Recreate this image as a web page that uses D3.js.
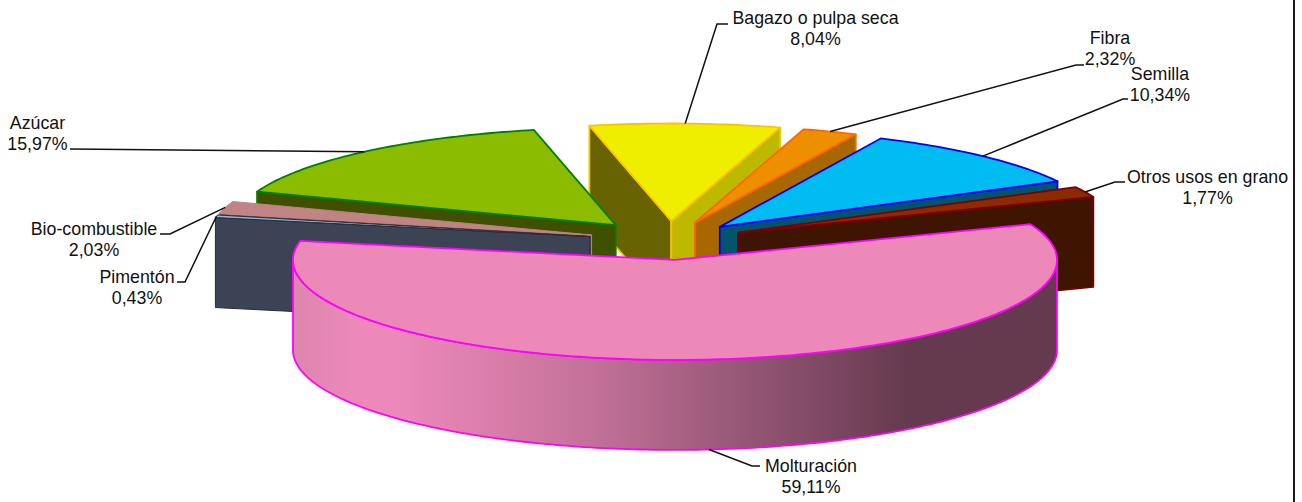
<!DOCTYPE html>
<html>
<head>
<meta charset="utf-8">
<script src="https://cdn.jsdelivr.net/npm/d3@7"></script>
<style>
  body { margin: 0; background: #fff; }
  text { font-family: "Liberation Sans", Arial, sans-serif; font-size: 17.8px; fill: #111; }
</style>
</head>
<body>
<div id="chart"></div>
<script>
// Data, clockwise from Molturacion
const categories = ["Molturación", "Pimentón", "Bio-combustible", "Azúcar", "Bagazo o pulpa seca", "Fibra", "Semilla", "Otros usos en grano"];
const shares = [59.11, 0.43, 2.03, 15.97, 8.04, 2.32, 10.34, 1.77];
const shareLabels = ["59,11%", "0,43%", "2,03%", "15,97%", "8,04%", "2,32%", "10,34%", "1,77%"];
const explosion = [0.19, 0.21, 0.21, 0.21, 0.2, 0.195, 0.195, 0.2];

// Styles
const topFill = ["#ec89b9", "#95b3d7", "#c08484", "#8cbc00", "#f0ee00", "#ee8f00", "#00bcf0", "#8a2b00"];
const sideFill = ["url(#moltWall)", "#3b4354", "#7a4a4a", "#3f5000", "#666300", "#a96700", "#00546c", "#3e1500"];
const endFill = ["#653a4f", "#3b4354", "#7a4a4a", "#3f5000", "#bdb900", "#a96700", "#00546c", "#3e1500"];
const strokes = ["#ff00ff", "#262c38", "#c08484", "#008000", "#ffc000", "#ff6600", "#0000ff", "#7b0000"];
const strokeWidths = [1.8, 1, 1, 1.8, 1.8, 1.8, 1.8, 1.8];
const drawOrder = [4, 5, 6, 7, 3, 2, 1, 0];

// Label layout: [centre x, first baseline], then leader elbow and end
const labelPos = [[811, 472], [137, 283], [94, 235], [37.5, 129], [815.5, 24], [1110, 44], [1160, 80], [1207.5, 183]];
const elbows = [[[752, 466], [760, 466]], [[185, 282], [177, 282]], [[170, 234], [160, 234]], [[70, 149]],
                [[717, 24], [728, 24]], [[1076, 65], [1084, 65]], [[1123, 99], [1128, 99]], [[1115, 182], [1125, 182]]];

const width = 1302, height = 502;
const depth = 90, lineGap = 20.5, backSquash = 0.975;

const svg = d3.select("#chart").append("svg")
  .attr("width", width).attr("height", height).style("display", "block");

const xscale = d3.scaleLinear().domain([-1, 1]).range([286.5, 1050.5]);
const yscale = d3.scaleLinear().domain([-1, 1]).range([341, 141]);

const grad = svg.append("defs").append("linearGradient").attr("id", "moltWall")
  .attr("gradientUnits", "userSpaceOnUse")
  .attr("x1", 292).attr("x2", 1057).attr("y1", 0).attr("y2", 0);
[[0, "#dc86ad"], [0.08, "#ec89b9"], [0.14, "#ec89b9"], [0.385, "#c47299"], [0.805, "#653a4f"], [1, "#653a4f"]].forEach(s => {
  grad.append("stop").attr("offset", s[0]).attr("stop-color", s[1]);
});

const pie = d3.pie().sort(null).value(d => d)
  .startAngle(68.5 * Math.PI / 180).endAngle((68.5 + 360) * Math.PI / 180);
const arcs = pie(shares);
const line = d3.line();

function project(i, angle, r) {
  const a = arcs[i];
  const mid = (a.startAngle + a.endAngle) / 2;
  const c = r * Math.cos(angle);
  return [xscale(explosion[i] * Math.sin(mid) + r * Math.sin(angle)),
          yscale(explosion[i] * Math.cos(mid) + (c > 0 ? c * backSquash : c))];
}
const drop = p => [p[0], p[1] + depth];

// points along the rim between two angles
function rim(i, a0, a1) {
  const n = Math.max(2, Math.ceil(Math.abs(a1 - a0) * 60));
  return d3.range(n + 1).map(k => project(i, a0 + (a1 - a0) * k / n, 1));
}

const g = svg.append("g");

drawOrder.forEach(i => {
  const a = arcs[i];
  const apex = project(i, 0, 0);
  const slice = g.append("g");
  const face = (pts, fill) => slice.append("path").attr("d", line(pts) + "Z")
    .attr("fill", fill).attr("stroke", strokes[i]).attr("stroke-width", strokeWidths[i]).attr("stroke-linejoin", "round");

  // radial walls, only when they face the viewer
  if (Math.cos(a.startAngle - Math.PI / 2) < 0) {
    const p = project(i, a.startAngle, 1);
    face([apex, p, drop(p), drop(apex)], sideFill[i]);
  }
  if (Math.cos(a.endAngle + Math.PI / 2) < 0) {
    const p = project(i, a.endAngle, 1);
    face([apex, p, drop(p), drop(apex)], endFill[i]);
  }
  // outer wall for the front half of the ellipse
  const from = Math.max(a.startAngle, Math.PI / 2), to = Math.min(a.endAngle, 3 * Math.PI / 2);
  if (to > from) {
    const front = rim(i, from, to);
    face(front.concat(front.map(drop).reverse()), sideFill[i]);
  }
  face([apex].concat(rim(i, a.startAngle, a.endAngle)), topFill[i]);
});

// Leaders and labels
arcs.forEach((a, i) => {
  const mid = (a.startAngle + a.endAngle) / 2;
  let start = project(i, mid, 1);
  if (Math.cos(mid) < 0) start = drop(start);
  svg.append("path").attr("d", line([start, ...elbows[i]]))
    .attr("fill", "none").attr("stroke", "#111").attr("stroke-width", 1.5);
  const t = svg.append("text").attr("text-anchor", "middle");
  t.append("tspan").attr("x", labelPos[i][0]).attr("y", labelPos[i][1]).text(categories[i]);
  t.append("tspan").attr("x", labelPos[i][0]).attr("y", labelPos[i][1] + lineGap).text(shareLabels[i]);
});

// frame line on the right of the picture
svg.append("line").attr("x1", 1294).attr("x2", 1294).attr("y1", 0).attr("y2", height)
  .attr("stroke", "#000").attr("stroke-width", 1.8);
</script>
</body>
</html>
